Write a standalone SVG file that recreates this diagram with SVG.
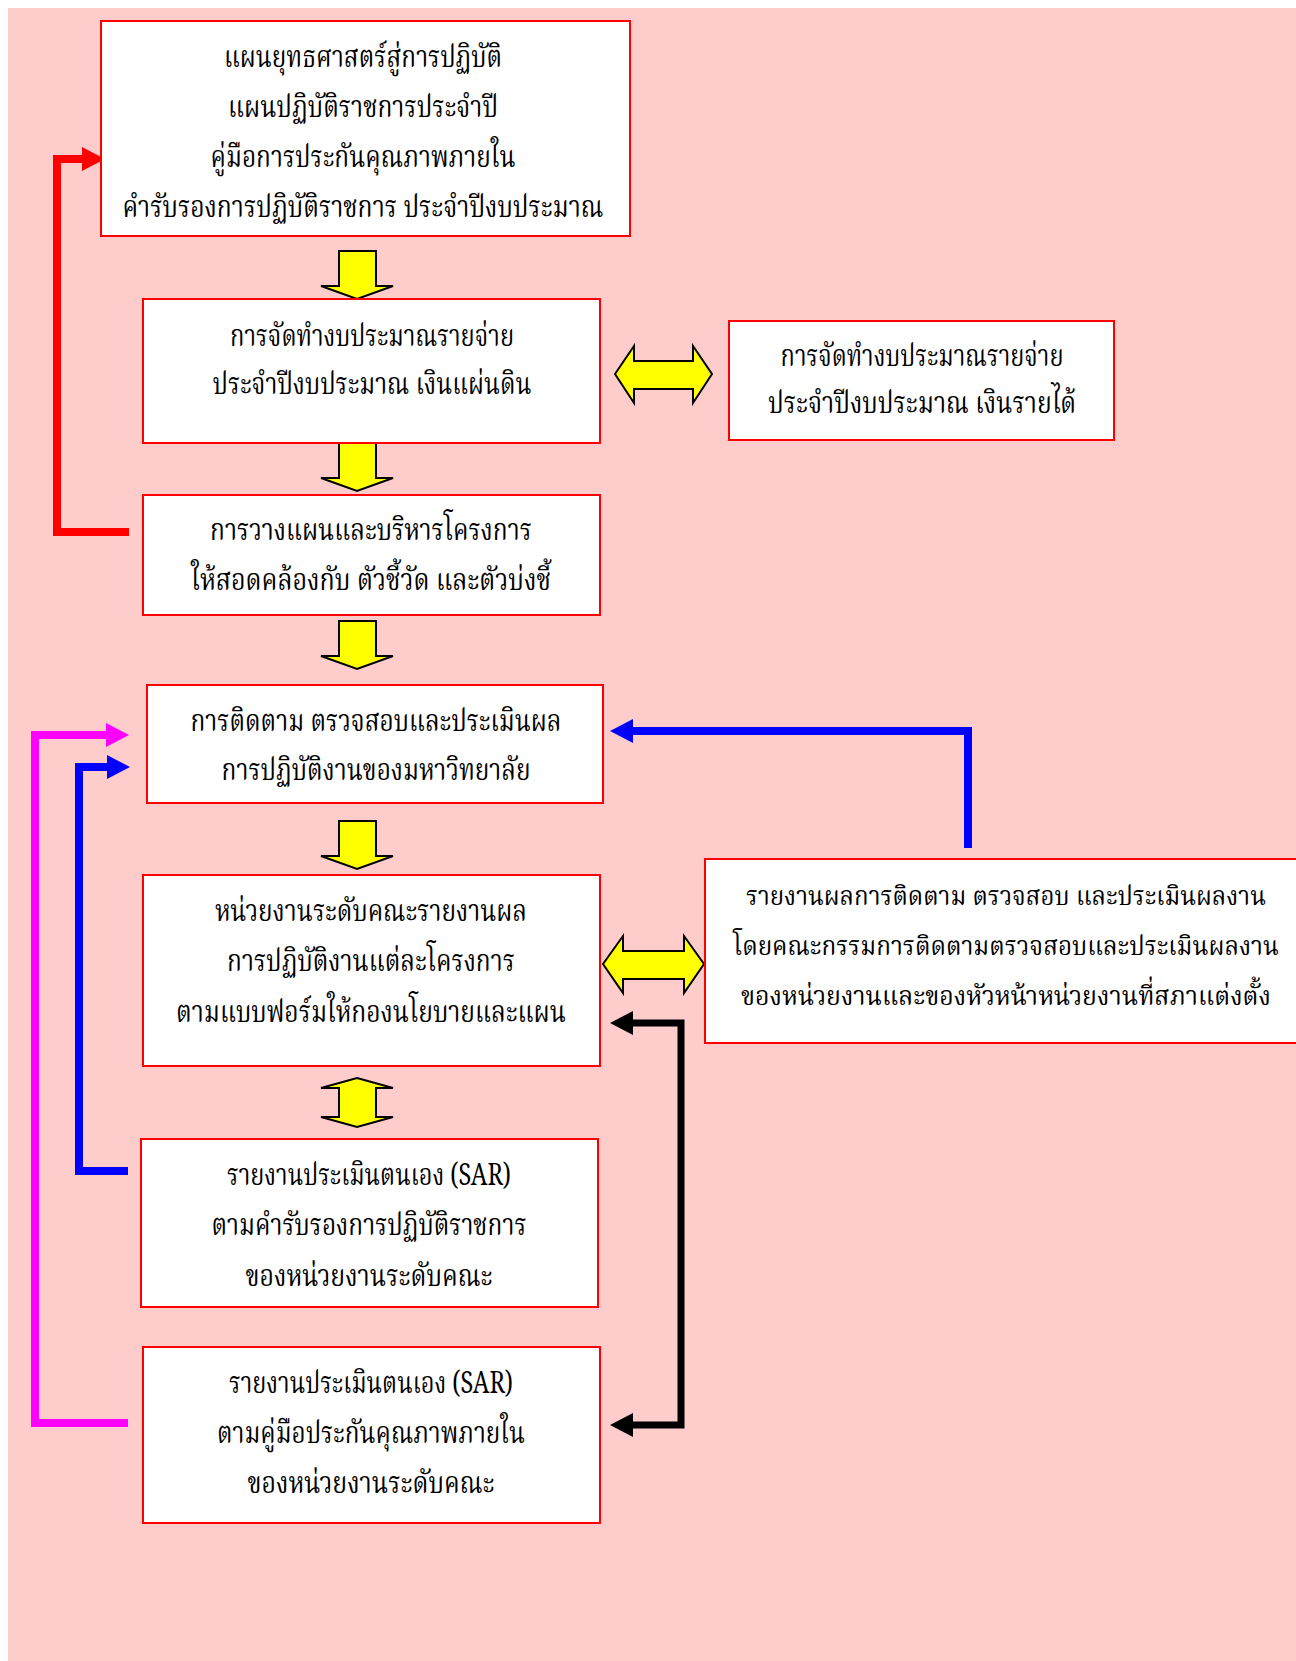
<svg xmlns="http://www.w3.org/2000/svg" width="1296" height="1661" viewBox="0 0 1296 1661">
<style>
.box{fill:#FFFFFF;stroke:#FF0000;stroke-width:2}
.ya{fill:#FFFF00;stroke:#000000;stroke-width:2;stroke-linejoin:miter}
.t{font-family:"Noto Serif Thai","Noto Sans Thai","Liberation Serif",serif;font-size:30px;fill:#000000;text-anchor:middle}
.s{font-size:27px}
.c{fill:none;stroke-width:8;stroke-linejoin:miter;stroke-linecap:butt}
</style>
<defs>
<marker id="hr" markerUnits="userSpaceOnUse" markerWidth="24" markerHeight="24" refX="0" refY="12" orient="auto"><path d="M0,0 L23,12 L0,24 z" fill="#FF0000"/></marker>
<marker id="hb" markerUnits="userSpaceOnUse" markerWidth="24" markerHeight="24" refX="0" refY="12" orient="auto"><path d="M0,0 L23,12 L0,24 z" fill="#0000FF"/></marker>
<marker id="hm" markerUnits="userSpaceOnUse" markerWidth="24" markerHeight="24" refX="0" refY="12" orient="auto"><path d="M0,0 L23,12 L0,24 z" fill="#FF00FF"/></marker>
<marker id="hk" markerUnits="userSpaceOnUse" markerWidth="24" markerHeight="24" refX="0" refY="12" orient="auto"><path d="M0,0 L23,12 L0,24 z" fill="#000000"/></marker>
</defs>
<rect x="0" y="0" width="1296" height="1661" fill="#FFFFFF"/>
<rect x="8" y="8" width="1288" height="1653" fill="#FFCCCC"/>

<g id="connectors">
<polyline class="c" stroke="#FF0000" points="129,532 57,532 57,159 82,159" marker-end="url(#hr)"/>
<polyline class="c" stroke="#FF00FF" points="128,1423 35,1423 35,735 106,735" marker-end="url(#hm)"/>
<polyline class="c" stroke="#0000FF" points="128,1171 79,1171 79,767 107,767" marker-end="url(#hb)"/>
<polyline class="c" stroke="#0000FF" points="968,848 968,731 633,731" marker-end="url(#hb)"/>
<polyline class="c" stroke="#000000" points="681,1224 681,1023 633,1023" marker-end="url(#hk)" style="stroke-width:7"/>
<polyline class="c" stroke="#000000" points="681,1224 681,1425 633,1425" marker-end="url(#hk)" style="stroke-width:7"/>
<polygon class="ya" points="339,251 376,251 376,286 393,286 357,299 321,286 339,286"/>
<polygon class="ya" points="339,443 376,443 376,478 393,478 357,491 321,478 339,478"/>
<polygon class="ya" points="339,621 376,621 376,656 393,656 357,669 321,656 339,656"/>
<polygon class="ya" points="339,821 376,821 376,856 393,856 357,869 321,856 339,856"/>
<polygon class="ya" points="615,374 634,346 634,361 693,361 693,346 712,374 693,403 693,389 634,389 634,403"/>
<polygon class="ya" points="603,964 623,936 623,951 684,951 684,936 704,964 684,993 684,979 623,979 623,993"/>
<polygon class="ya" points="357,1078 393,1088 376,1088 376,1117 393,1117 357,1127 321,1117 339,1117 339,1088 321,1088"/>
</g>

<g id="n1">
<rect class="box" x="101" y="21" width="529" height="215"/>
<text class="t" x="363" y="67" textLength="278" lengthAdjust="spacingAndGlyphs">แผนยุทธศาสตร์สู่การปฏิบัติ</text>
<text class="t" x="363" y="117" textLength="270" lengthAdjust="spacingAndGlyphs">แผนปฏิบัติราชการประจำปี</text>
<text class="t" x="363" y="167" textLength="305" lengthAdjust="spacingAndGlyphs">คู่มือการประกันคุณภาพภายใน</text>
<text class="t" x="363" y="217" textLength="481" lengthAdjust="spacingAndGlyphs">คำรับรองการปฏิบัติราชการ ประจำปีงบประมาณ</text>
</g>

<g id="n2">
<rect class="box" x="143" y="299" width="457" height="144"/>
<text class="t" x="372" y="346" textLength="284" lengthAdjust="spacingAndGlyphs">การจัดทำงบประมาณรายจ่าย</text>
<text class="t" x="372" y="394" textLength="319" lengthAdjust="spacingAndGlyphs">ประจำปีงบประมาณ เงินแผ่นดิน</text>
</g>

<g id="n3">
<rect class="box" x="729" y="321" width="385" height="119"/>
<text class="t" x="922" y="366" textLength="283" lengthAdjust="spacingAndGlyphs">การจัดทำงบประมาณรายจ่าย</text>
<text class="t" x="922" y="413" textLength="308" lengthAdjust="spacingAndGlyphs">ประจำปีงบประมาณ เงินรายได้</text>
</g>

<g id="n4">
<rect class="box" x="143" y="495" width="457" height="120"/>
<text class="t" x="371" y="540" textLength="322" lengthAdjust="spacingAndGlyphs">การวางแผนและบริหารโครงการ</text>
<text class="t" x="371" y="590" textLength="360" lengthAdjust="spacingAndGlyphs">ให้สอดคล้องกับ ตัวชี้วัด และตัวบ่งชี้</text>
</g>

<g id="n5">
<rect class="box" x="147" y="685" width="456" height="118"/>
<text class="t" x="376" y="731" textLength="371" lengthAdjust="spacingAndGlyphs">การติดตาม ตรวจสอบและประเมินผล</text>
<text class="t" x="376" y="780" textLength="309" lengthAdjust="spacingAndGlyphs">การปฏิบัติงานของมหาวิทยาลัย</text>
</g>

<g id="n6">
<rect class="box" x="143" y="875" width="457" height="191"/>
<text class="t" x="371" y="921" textLength="312" lengthAdjust="spacingAndGlyphs">หน่วยงานระดับคณะรายงานผล</text>
<text class="t" x="371" y="971" textLength="288" lengthAdjust="spacingAndGlyphs">การปฏิบัติงานแต่ละโครงการ</text>
<text class="t" x="371" y="1022" textLength="390" lengthAdjust="spacingAndGlyphs">ตามแบบฟอร์มให้กองนโยบายและแผน</text>
</g>

<g id="n7">
<rect class="box" x="705" y="859" width="600" height="184"/>
<text class="t s" x="1006" y="905" textLength="520" lengthAdjust="spacingAndGlyphs">รายงานผลการติดตาม ตรวจสอบ และประเมินผลงาน</text>
<text class="t s" x="1006" y="955" textLength="546" lengthAdjust="spacingAndGlyphs">โดยคณะกรรมการติดตามตรวจสอบและประเมินผลงาน</text>
<text class="t s" x="1006" y="1005" textLength="530" lengthAdjust="spacingAndGlyphs">ของหน่วยงานและของหัวหน้าหน่วยงานที่สภาแต่งตั้ง</text>
</g>

<g id="n8">
<rect class="box" x="141" y="1139" width="457" height="168"/>
<text class="t" x="369" y="1185" textLength="284" lengthAdjust="spacingAndGlyphs">รายงานประเมินตนเอง (SAR)</text>
<text class="t" x="369" y="1235" textLength="315" lengthAdjust="spacingAndGlyphs">ตามคำรับรองการปฏิบัติราชการ</text>
<text class="t" x="369" y="1286" textLength="247" lengthAdjust="spacingAndGlyphs">ของหน่วยงานระดับคณะ</text>
</g>

<g id="n9">
<rect class="box" x="143" y="1347" width="457" height="176"/>
<text class="t" x="371" y="1393" textLength="284" lengthAdjust="spacingAndGlyphs">รายงานประเมินตนเอง (SAR)</text>
<text class="t" x="371" y="1443" textLength="308" lengthAdjust="spacingAndGlyphs">ตามคู่มือประกันคุณภาพภายใน</text>
<text class="t" x="371" y="1493" textLength="247" lengthAdjust="spacingAndGlyphs">ของหน่วยงานระดับคณะ</text>
</g>
</svg>
